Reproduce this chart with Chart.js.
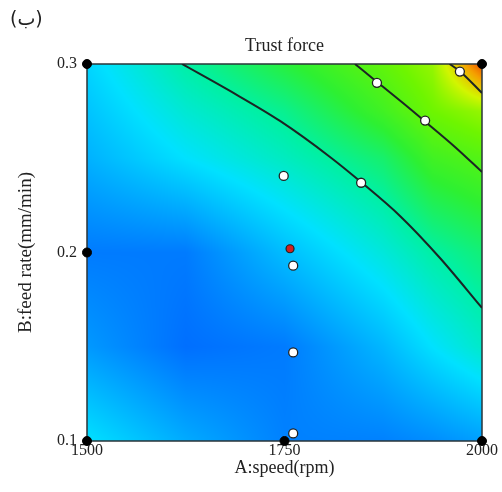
<!DOCTYPE html>
<html>
<head>
<meta charset="utf-8">
<script src="https://cdn.jsdelivr.net/npm/chart.js@4"></script>
<style>
  body { margin: 0; background: #fff; }
  #wrap { position: relative; width: 502px; height: 492px; }
  #tag { position: absolute; left: 10px; top: 6px; font: 19px "DejaVu Sans", sans-serif; line-height: 24px; color: #222; }
  #title { position: absolute; left: 87px; width: 395px; top: 35px; text-align: center; font: 18px "Liberation Serif", serif; color: #222; }
</style>
</head>
<body>
<div id="wrap">
  <canvas id="chart" width="502" height="492"></canvas>
  <div id="tag">(ب)</div>
  <div id="title">Trust force</div>
</div>
<script>
// Axis ticks
const xTicks = [1500, 1750, 2000];
const xTickLabels = ['1500', '1750', '2000'];
const yTicks = [0.1, 0.2, 0.3];
const yTickLabels = ['0.1', '0.2', '0.3'];

// Response surface (colour level 0 = deep blue ... 8 = red)
const gridSpeed = [1500, 1625, 1750, 1875, 1937.5, 2000];
const gridFeed = [0.1, 0.15, 0.2, 0.25, 0.275, 0.3];
const level010 = [2.0, 1.1, 0.4, 0.4, 0.6, 0.9];
const level015 = [0.8, 0.1, 0.3, 1.3, 2.0, 2.6];
const level020 = [0.3, 0.3, 1.4, 2.4, 3.0, 3.4];
const level025 = [1.2, 2.0, 2.7, 3.5, 4.3, 4.6];
const level0275 = [1.5, 2.5, 3.2, 4.3, 5.0, 5.4];
const level030 = [1.8, 3.0, 3.9, 4.8, 5.4, 7.8];
const levels = [level010, level015, level020, level025, level0275, level030];

// Contour lines
const contour1Speed = [1620.3, 1681, 1744.3, 1807.6, 1846.8, 1896.2, 1946.8, 2000];
const contour1Feed = [0.3, 0.2857, 0.2698, 0.2507, 0.2374, 0.2194, 0.1971, 0.1706];
const contour2Speed = [1839.2, 1867.1, 1900, 1931.6, 1965.8, 2000];
const contour2Feed = [0.3, 0.2905, 0.2793, 0.2682, 0.256, 0.2427];
const contour3Speed = [1959, 1973, 2000];
const contour3Feed = [0.3, 0.2958, 0.2846];

// Design points
const runSpeed = [1867, 1928, 1972, 1847, 1749, 1761, 1761, 1761];
const runFeed = [0.29, 0.27, 0.296, 0.237, 0.2406, 0.193, 0.147, 0.104];
const centreSpeed = [1757];
const centreFeed = [0.202];
const edgeSpeed = [1500, 2000, 1500, 1500, 1750, 2000];
const edgeFeed = [0.3, 0.3, 0.2, 0.1, 0.1, 0.1];

// Colour stops for levels 0..8
const colourStops = [
    [0, 105, 255], [0, 165, 255], [0, 225, 255], [0, 240, 165],
    [45, 240, 50], [110, 245, 0], [210, 245, 0], [245, 160, 0], [235, 60, 0]
];

const toPoints = (xs, ys) => xs.map((v, i) => ({ x: v, y: ys[i] }));

function findCell(arr, v) {
    let i = 0;
    while (i < arr.length - 2 && v > arr[i + 1]) i++;
    const t = Math.min(1, Math.max(0, (v - arr[i]) / (arr[i + 1] - arr[i])));
    return [i, t];
}

function sampleLevel(sx, fy) {
    const [i, tx] = findCell(gridSpeed, sx);
    const [j, ty] = findCell(gridFeed, fy);
    const a = levels[j][i], b = levels[j][i + 1];
    const c = levels[j + 1][i], d = levels[j + 1][i + 1];
    return (a * (1 - tx) + b * tx) * (1 - ty) + (c * (1 - tx) + d * tx) * ty;
}

function colourFor(v) {
    const k = Math.min(colourStops.length - 2, Math.max(0, Math.floor(v)));
    const t = Math.min(1, Math.max(0, v - k));
    const p = colourStops[k], q = colourStops[k + 1];
    return [p[0] + (q[0] - p[0]) * t, p[1] + (q[1] - p[1]) * t, p[2] + (q[2] - p[2]) * t];
}

// Paint the surface and the frame under the datasets
const surfacePlugin = {
    id: 'surface',
    beforeDatasetsDraw(chart) {
        const { ctx, chartArea: a, scales: { x, y } } = chart;
        const w = Math.round(a.right - a.left), h = Math.round(a.bottom - a.top);
        const off = document.createElement('canvas');
        off.width = w;
        off.height = h;
        const octx = off.getContext('2d');
        const img = octx.createImageData(w, h);
        for (let j = 0; j < h; j++) {
            const fy = y.getValueForPixel(a.top + j + 0.5);
            for (let i = 0; i < w; i++) {
                const sx = x.getValueForPixel(a.left + i + 0.5);
                const c = colourFor(sampleLevel(sx, fy));
                const k = (j * w + i) * 4;
                img.data[k] = c[0];
                img.data[k + 1] = c[1];
                img.data[k + 2] = c[2];
                img.data[k + 3] = 255;
            }
        }
        octx.putImageData(img, 0, 0);
        ctx.save();
        ctx.drawImage(off, a.left, a.top);
        ctx.strokeStyle = '#2a3438';
        ctx.lineWidth = 1.5;
        ctx.strokeRect(a.left, a.top, a.right - a.left, a.bottom - a.top);
        ctx.restore();
    }
};

const lineStyle = {
    showLine: true,
    borderColor: '#1c2424',
    borderWidth: 2,
    pointRadius: 0,
    cubicInterpolationMode: 'monotone',
    fill: false,
    order: 2
};

const serif = '"Liberation Serif", "Times New Roman", serif';

new Chart(document.getElementById('chart'), {
    type: 'scatter',
    data: {
        datasets: [
            {
                data: toPoints(edgeSpeed, edgeFeed),
                pointRadius: 4.5,
                backgroundColor: '#000',
                borderColor: '#000',
                clip: false,
                order: 0
            },
            {
                data: toPoints(centreSpeed, centreFeed),
                pointRadius: 4,
                backgroundColor: '#d42020',
                borderColor: '#222',
                borderWidth: 1.2,
                order: 0
            },
            {
                data: toPoints(runSpeed, runFeed),
                pointRadius: 4.5,
                backgroundColor: '#fff',
                borderColor: '#222',
                borderWidth: 1.3,
                order: 0
            },
            Object.assign({ data: toPoints(contour1Speed, contour1Feed) }, lineStyle),
            Object.assign({ data: toPoints(contour2Speed, contour2Feed) }, lineStyle),
            Object.assign({ data: toPoints(contour3Speed, contour3Feed) }, lineStyle)
        ]
    },
    options: {
        responsive: false,
        animation: false,
        layout: { padding: { left: 0, top: 64, right: 20, bottom: 0 } },
        plugins: {
            legend: { display: false },
            tooltip: { enabled: false }
        },
        scales: {
            x: {
                type: 'linear',
                min: 1500,
                max: 2000,
                afterBuildTicks: s => { s.ticks = xTicks.map(v => ({ value: v })); },
                afterFit: s => { s.height = 51; },
                grid: { display: false, drawTicks: false },
                border: { display: false },
                ticks: {
                    padding: 0,
                    color: '#222',
                    font: { family: serif, size: 16 },
                    callback: (v) => xTickLabels[xTicks.indexOf(v)]
                },
                title: {
                    display: true,
                    text: 'A:speed(rpm)',
                    color: '#222',
                    font: { family: serif, size: 18 },
                    padding: { top: 0, bottom: 13 }
                }
            },
            y: {
                type: 'linear',
                min: 0.1,
                max: 0.3,
                afterBuildTicks: s => { s.ticks = yTicks.map(v => ({ value: v })); },
                afterFit: s => { s.width = 87; },
                grid: { display: false, drawTicks: false },
                border: { display: false },
                ticks: {
                    padding: 10,
                    color: '#222',
                    font: { family: serif, size: 16 },
                    callback: (v) => yTickLabels[yTicks.indexOf(v)]
                },
                title: {
                    display: true,
                    text: 'B:feed rate(mm/min)',
                    color: '#222',
                    font: { family: serif, size: 19 },
                    padding: { top: 15, bottom: 0 }
                }
            }
        }
    },
    plugins: [surfacePlugin]
});
</script>
</body>
</html>
